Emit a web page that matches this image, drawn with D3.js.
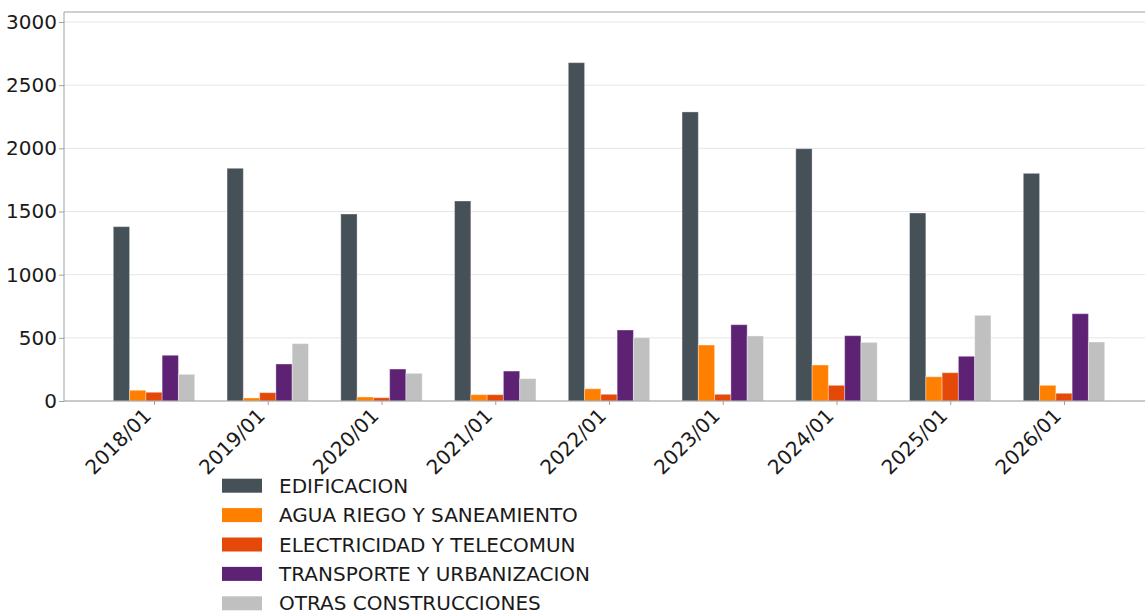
<!DOCTYPE html>
<html>
<head>
<meta charset="utf-8">
<script src="https://cdn.jsdelivr.net/npm/d3@7"></script>
<style>
  body { margin: 0; background: #fff; }
  svg { display: block; font-family: "DejaVu Sans", sans-serif; }
</style>
</head>
<body>
<script>
let w = 1145;
let h = 614;

let categories = ["2018/01", "2019/01", "2020/01", "2021/01", "2022/01",
  "2023/01", "2024/01", "2025/01", "2026/01"];

let seriesNames = ["EDIFICACION", "AGUA RIEGO Y SANEAMIENTO", "ELECTRICIDAD Y TELECOMUN",
  "TRANSPORTE Y URBANIZACION", "OTRAS CONSTRUCCIONES"];

let edificacion = [1380, 1842, 1480, 1583, 2678, 2288, 1997, 1488, 1802];
let agua = [85, 24, 32, 50, 97, 443, 285, 192, 124];
let electricidad = [69, 66, 26, 50, 53, 53, 124, 224, 61];
let transporte = [362, 293, 253, 237, 562, 604, 517, 354, 691];
let otras = [211, 454, 219, 177, 501, 515, 464, 678, 467];

let yTicks = [0, 500, 1000, 1500, 2000, 2500, 3000];

let colors = ["#465057", "#ff8000", "#e5490a", "#5e2275", "#c0c0c0"];

let series = [edificacion, agua, electricidad, transporte, otras];

let margin = { left: 64, top: 12, bottom: 401, right: 1160 };

let xScale = d3.scalePoint()
  .domain(categories)
  .range([154, 1064]);

let subScale = d3.scaleBand()
  .domain(d3.range(seriesNames.length))
  .range([-40.7, 40.7]);

let yScale = d3.scaleLinear()
  .domain([0, 3079])
  .range([margin.bottom, margin.top]);

let svg = d3.select("body")
  .append("svg")
  .attr("width", w)
  .attr("height", h);

// gridlines
svg.append("g")
  .selectAll("line")
  .data(yTicks)
  .enter()
  .append("line")
  .attr("x1", margin.left)
  .attr("x2", margin.right)
  .attr("y1", d => yScale(d))
  .attr("y2", d => yScale(d))
  .attr("stroke", "#e6e6e6")
  .attr("stroke-width", 1);

// bars
series.forEach(function(vals, s) {
  svg.append("g")
    .selectAll("rect")
    .data(vals)
    .enter()
    .append("rect")
    .attr("x", (_, i) => xScale(categories[i]) + subScale(s))
    .attr("y", d => yScale(d))
    .attr("width", subScale.bandwidth())
    .attr("height", d => yScale(0) - yScale(d))
    .attr("fill", colors[s])
    .attr("stroke", "#ffffff")
    .attr("stroke-opacity", 0.35)
    .attr("stroke-width", 1);
});

// frame
svg.append("line")
  .attr("x1", margin.left).attr("x2", margin.right)
  .attr("y1", margin.top).attr("y2", margin.top)
  .attr("stroke", "#a0a0a0");

// y axis
let yAxis = svg.append("g")
  .attr("transform", "translate(" + margin.left + ",0)")
  .call(d3.axisLeft(yScale).tickValues(yTicks).tickFormat(d3.format("d"))
    .tickSize(5).tickPadding(2).tickSizeOuter(0));
yAxis.select(".domain").attr("stroke", "#a0a0a0")
  .attr("d", "M0," + margin.top + "V" + margin.bottom);
yAxis.selectAll(".tick line").attr("stroke", "#a0a0a0");
yAxis.selectAll("text")
  .attr("font-size", "20px")
  .attr("font-family", "DejaVu Sans")
  .attr("fill", "#1a1a1a");

// x axis
let xAxis = svg.append("g")
  .attr("transform", "translate(0," + margin.bottom + ")")
  .call(d3.axisBottom(xScale).tickSize(4).tickSizeOuter(0));
xAxis.select(".domain").attr("d", "M" + margin.left + ",0H" + margin.right).attr("stroke", "#a0a0a0");
xAxis.selectAll(".tick line").attr("stroke", "#a0a0a0");
xAxis.selectAll("text")
  .attr("font-size", "20px")
  .attr("font-family", "DejaVu Sans")
  .attr("fill", "#1a1a1a")
  .attr("text-anchor", "end")
  .attr("dy", "0")
  .attr("y", 0)
  .attr("transform", "translate(-2,16) rotate(-45)");

// legend
let legend = svg.append("g")
  .selectAll("g")
  .data(seriesNames)
  .enter()
  .append("g")
  .attr("transform", (_, i) => "translate(222," + (485.7 + i * 29.4) + ")");

legend.append("rect")
  .attr("x", 0)
  .attr("y", -7)
  .attr("width", 40)
  .attr("height", 14)
  .attr("fill", (_, i) => colors[i]);

legend.append("text")
  .attr("x", 57)
  .attr("y", 0)
  .attr("dy", "0.35em")
  .attr("font-size", "20px")
  .attr("fill", "#1a1a1a")
  .text(d => d);
</script>
</body>
</html>
